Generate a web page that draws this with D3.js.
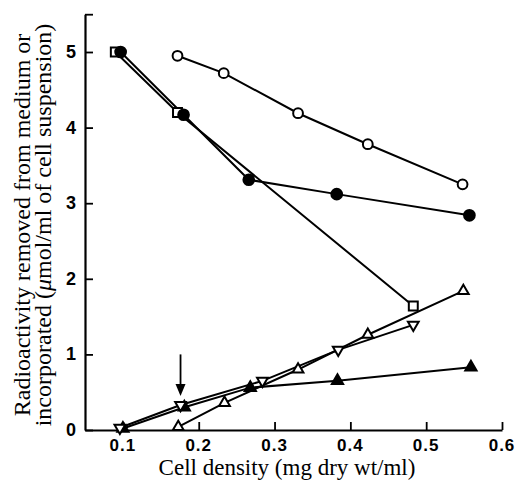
<!DOCTYPE html>
<html>
<head>
<meta charset="utf-8">
<script src="https://cdn.jsdelivr.net/npm/d3@7"></script>
<style>
  body { margin: 0; background: #fff; }
  svg { display: block; }
</style>
</head>
<body>
<script>
// Data
let openCircleX = [0.172, 0.233, 0.331, 0.423, 0.548]
let openCircleY = [4.95, 4.72, 4.19, 3.78, 3.25]

let filledCircleX = [0.097, 0.18, 0.266, 0.382, 0.557]
let filledCircleY = [5.0, 4.17, 3.31, 3.12, 2.84]

let squareX = [0.09, 0.172, 0.483]
let squareY = [5.0, 4.2, 1.64]

let upTriX = [0.173, 0.234, 0.331, 0.423, 0.549]
let upTriY = [0.04, 0.36, 0.8, 1.26, 1.84]

let downTriX = [0.096, 0.176, 0.284, 0.384, 0.483]
let downTriY = [0.03, 0.33, 0.65, 1.06, 1.39]

let filledTriX = [0.1, 0.181, 0.268, 0.383, 0.559]
let filledTriY = [0.02, 0.3, 0.56, 0.65, 0.83]

let xTicks = [0.1, 0.2, 0.3, 0.4, 0.5, 0.6]
let yTicks = [0, 1, 2, 3, 4, 5, 5.5]
let yTickLabels = ['0', '1', '2', '3', '4', '5', '']

let arrowX = 0.176
let arrowFrom = 1.0
let arrowTo = 0.45

let width = 517
let height = 485

let svg = d3.select('body')
  .append('svg')
  .attr('width', width)
  .attr('height', height)

let x = d3.scaleLinear()
          .domain([0.05, 0.6])
          .range([85, 502])

let y = d3.scaleLinear()
          .domain([0, 5.5])
          .range([430, 14.2])

// Axes (ticks point inward)
let xAxis = svg.append('g')
   .attr('transform', `translate(0, ${y(0)})`)
   .call(d3.axisTop(x).tickValues(xTicks).tickSize(8).tickFormat(() => '').tickSizeOuter(0))
xAxis.select('.domain').attr('stroke', 'black').attr('stroke-width', 2.2)
xAxis.selectAll('.tick line').attr('stroke', 'black').attr('stroke-width', 1.8)

let yAxis = svg.append('g')
   .attr('transform', `translate(${x(0.05)}, 0)`)
   .call(d3.axisRight(y).tickValues(yTicks).tickSize(8).tickFormat(() => '').tickSizeOuter(0))
yAxis.select('.domain').attr('stroke', 'black').attr('stroke-width', 2.2)
yAxis.selectAll('.tick line').attr('stroke', 'black').attr('stroke-width', 1.8)

// Tick labels
svg.append('g').selectAll('text')
  .data(xTicks)
  .enter()
  .append('text')
  .attr('x', d => x(d))
  .attr('y', 451)
  .attr('text-anchor', 'middle')
  .style('font-family', 'Liberation Sans, Arial, sans-serif')
  .style('font-weight', 'bold')
  .style('font-size', '17px')
  .style('letter-spacing', '1px')
  .text(d => d.toFixed(1))

svg.append('g').selectAll('text')
  .data(yTicks)
  .enter()
  .append('text')
  .attr('x', 76)
  .attr('y', d => y(d) + 6)
  .attr('text-anchor', 'end')
  .style('font-family', 'Liberation Sans, Arial, sans-serif')
  .style('font-weight', 'bold')
  .style('font-size', '18px')
  .text((d, i) => yTickLabels[i])

// Axis titles
svg.append('text')
  .attr('x', 287)
  .attr('y', 475)
  .attr('text-anchor', 'middle')
  .style('font-family', 'Liberation Serif, Times New Roman, serif')
  .style('font-size', '23px')
  .text('Cell density (mg dry wt/ml)')

let yTitle = svg.append('g')
  .attr('transform', 'translate(0, 225) rotate(-90)')
  .style('font-family', 'Liberation Serif, Times New Roman, serif')
  .style('font-size', '24px')
yTitle.append('text')
  .attr('x', 0).attr('y', 30)
  .attr('text-anchor', 'middle')
  .text('Radioactivity removed from medium or')
let t2 = yTitle.append('text')
  .attr('x', 0).attr('y', 51)
  .attr('text-anchor', 'middle')
t2.append('tspan').text('incorporated (')
t2.append('tspan').style('font-style', 'italic').text('\u03bc')
t2.append('tspan').text('mol/ml of cell suspension)')

// Series
let series = [
  {xs: squareX, ys: squareY, shape: d3.symbolSquare, size: 80, fill: 'white', rot: 0},
  {xs: filledCircleX, ys: filledCircleY, shape: d3.symbolCircle, size: 90, fill: 'black', rot: 0},
  {xs: openCircleX, ys: openCircleY, shape: d3.symbolCircle, size: 75, fill: 'white', rot: 0},
  {xs: upTriX, ys: upTriY, shape: d3.symbolTriangle, size: 50, fill: 'white', rot: 0},
  {xs: filledTriX, ys: filledTriY, shape: d3.symbolTriangle, size: 55, fill: 'black', rot: 0},
  {xs: downTriX, ys: downTriY, shape: d3.symbolTriangle, size: 50, fill: 'white', rot: 180},
]

let line = d3.line()
  .x(d => x(d[0]))
  .y(d => y(d[1]))

let lg = svg.append('g')
series.forEach(s => {
  let pts = s.xs.map((v, i) => [v, s.ys[i]])
  lg.append('path')
    .datum(pts)
    .attr('d', line)
    .attr('fill', 'none')
    .attr('stroke', 'black')
    .attr('stroke-width', 2)
})

let mg = svg.append('g')
series.forEach(s => {
  let pts = s.xs.map((v, i) => [v, s.ys[i]])
  mg.selectAll(null)
    .data(pts)
    .enter()
    .append('path')
    .attr('d', d3.symbol().type(s.shape).size(s.size))
    .attr('transform', d => `translate(${x(d[0])}, ${y(d[1])}) rotate(${s.rot})`)
    .attr('fill', s.fill)
    .attr('stroke', 'black')
    .attr('stroke-width', 2)
})

// Arrow
svg.append('line')
  .attr('x1', x(arrowX))
  .attr('x2', x(arrowX))
  .attr('y1', y(arrowFrom))
  .attr('y2', y(arrowTo) - 8)
  .attr('stroke', 'black')
  .attr('stroke-width', 1.8)

svg.append('path')
  .attr('d', `M${x(arrowX) - 5},${y(arrowTo) - 12} L${x(arrowX) + 5},${y(arrowTo) - 12} L${x(arrowX)},${y(arrowTo)} Z`)
  .attr('fill', 'black')
</script>
</body>
</html>
